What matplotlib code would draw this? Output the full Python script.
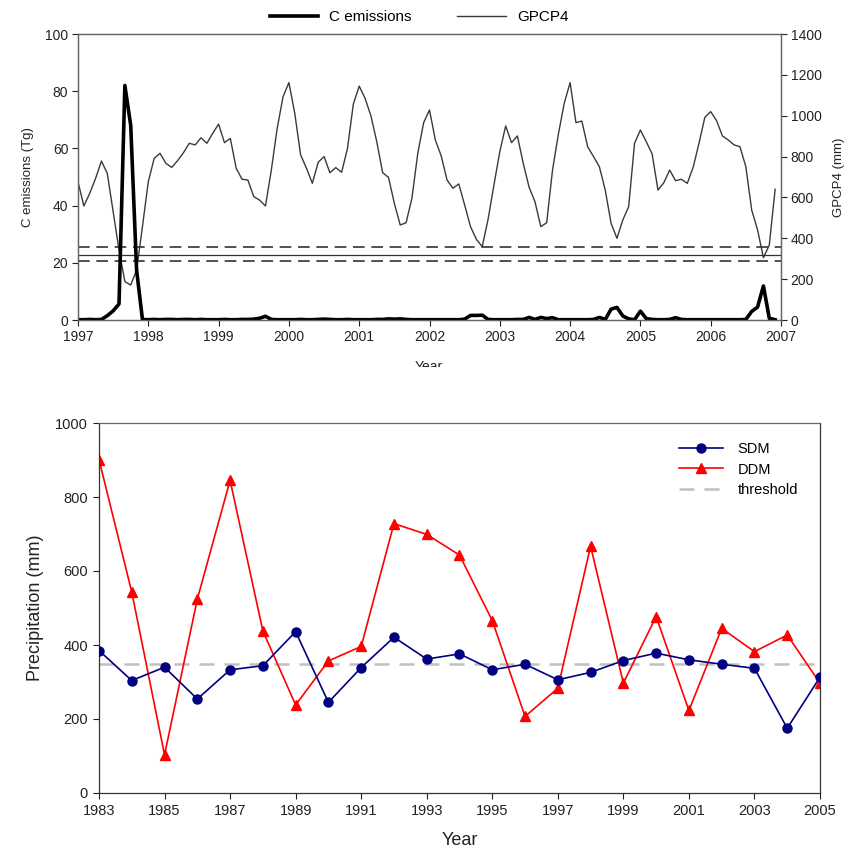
import numpy as np
import matplotlib
matplotlib.use('Agg')
import matplotlib.pyplot as plt
from matplotlib.transforms import Bbox, TransformedBbox

plt.rcParams['font.family'] = ['Liberation Sans', 'DejaVu Sans']

# 上图：月度数据 1997-2006
months = 1997 + np.arange(120) / 12.0
gpcp4 = [677, 558, 620, 693, 778, 718, 530, 343, 188, 171, 245, 457,
         677, 791, 816, 767, 747, 780, 819, 865, 857, 892, 865, 914,
         959, 868, 889, 743, 689, 685, 604, 587, 558, 734, 938, 1093,
         1162, 1012, 808, 743, 669, 772, 800, 721, 746, 723, 840, 1057,
         1145, 1085, 999, 873, 721, 698, 571, 465, 476, 596, 816, 966,
         1028, 881, 803, 685, 645, 666, 563, 457, 395, 359, 493, 661,
         824, 950, 868, 901, 767, 650, 579, 457, 476, 734, 910, 1061,
         1162, 966, 974, 848, 800, 750, 636, 473, 400, 490, 555, 865,
         930, 873, 813, 636, 672, 734, 682, 689, 669, 747, 865, 992,
         1020, 976, 901, 881, 857, 848, 750, 538, 441, 305, 367, 640]
c_emis = [0.1, 0.1, 0.2, 0.1, 0.2, 1.5, 3.2, 5.6, 82, 68, 17.5, 0.2,
          0.1, 0.2, 0.1, 0.2, 0.2, 0.1, 0.2, 0.2, 0.1, 0.2, 0.1, 0.1,
          0.1, 0.2, 0.1, 0.1, 0.2, 0.2, 0.3, 0.6, 1.3, 0.2, 0.1, 0.1,
          0.1, 0.1, 0.2, 0.1, 0.1, 0.2, 0.3, 0.2, 0.1, 0.1, 0.2, 0.1,
          0.1, 0.1, 0.1, 0.2, 0.2, 0.4, 0.3, 0.4, 0.2, 0.1, 0.1, 0.1,
          0.1, 0.1, 0.1, 0.1, 0.1, 0.1, 0.3, 1.6, 1.6, 1.7, 0.2, 0.1,
          0.1, 0.1, 0.1, 0.2, 0.2, 0.9, 0.2, 0.9, 0.5, 0.8, 0.1, 0.1,
          0.1, 0.1, 0.1, 0.1, 0.2, 0.9, 0.2, 3.8, 4.4, 1.4, 0.4, 0.1,
          3.1, 0.5, 0.2, 0.1, 0.1, 0.2, 0.8, 0.2, 0.1, 0.1, 0.1, 0.1,
          0.1, 0.1, 0.1, 0.1, 0.1, 0.1, 0.2, 3.0, 4.5, 11.9, 0.6, 0.1]
thr_hi, thr_mid, thr_lo = 359, 317, 290   # mm

# 下图：年度降水
years = np.arange(1983, 2006)
sdm = [385, 304, 340, 254, 333, 344, 436, 245, 339, 421, 362, 376,
       333, 348, 306, 326, 358, 378, 360, 348, 337, 175, 313]
ddm = [901, 543, 103, 524, 845, 438, 238, 357, 396, 728, 699, 643,
       466, 207, 283, 667, 297, 477, 223, 445, 382, 427, 297]
threshold = 350

fig = plt.figure(figsize=(8.53, 8.52), dpi=100)
W, H = 853.0, 852.0

# ---------- 上图 ----------
ax1 = fig.add_axes([78 / W, 1 - 320 / H, (781 - 78) / W, (320 - 34) / H])
ax2 = ax1.twinx()
ax1.set_zorder(ax2.get_zorder() + 1)
ax1.patch.set_visible(False)

l2, = ax2.plot(months, gpcp4, color='#3a3a3a', lw=1.0, label='GPCP4')
for v, ls in [(thr_hi, (0, (7, 4))), (thr_mid, '-'), (thr_lo, (0, (7, 4)))]:
    ax2.axhline(v, color='#333333', lw=1.2 if ls != '-' else 0.9, linestyle=ls)
l1, = ax1.plot(months, c_emis, color='black', lw=2.6, label='C emissions')

ax1.set_xlim(1997, 2007)
ax1.set_ylim(0, 100)
ax2.set_ylim(0, 1400)
ax1.set_xticks(range(1997, 2008))
ax1.set_yticks(range(0, 101, 20))
ax2.set_yticks(range(0, 1401, 200))
for a in (ax1, ax2):
    a.tick_params(direction='out', length=4, width=0.8, labelsize=10,
                  colors='#222222', pad=3)
    for s in a.spines.values():
        s.set_color('#666666')
        s.set_linewidth(0.9)
ax1.set_ylabel('C emissions (Tg)', fontsize=9.5, color='#222222', labelpad=8)
ax2.set_ylabel('GPCP4 (mm)', fontsize=9.5, color='#222222', labelpad=8)

fig.legend([l1, l2], ['C emissions', 'GPCP4'], loc='center',
           bbox_to_anchor=(419 / W, 1 - 17 / H), ncol=2, frameon=False,
           fontsize=11, handlelength=3.2, columnspacing=3.0, handletextpad=0.7)

# 被裁掉一半的 "Year"
yl = fig.text(429 / W, 1 - 367 / H, 'Year', ha='center', va='center',
              fontsize=10, color='#222222')
yl.set_clip_box(TransformedBbox(Bbox([[0, 1 - 367 / H], [1, 1]]), fig.transFigure))
yl.set_clip_on(True)

# ---------- 下图 ----------
ax3 = fig.add_axes([99 / W, 1 - 793 / H, (820 - 99) / W, (793 - 423) / H])
ax3.axhline(threshold, color='#c0c0c0', lw=1.8, linestyle=(0, (6, 4)),
            label='threshold', zorder=1)
ax3.plot(years, sdm, color='#000080', lw=1.2, marker='o', ms=6.5,
         label='SDM', zorder=3)
ax3.plot(years, ddm, color='#ff0000', lw=1.2, marker='^', ms=7.5,
         label='DDM', zorder=2)
ax3.set_xlim(1983, 2005)
ax3.set_ylim(0, 1000)
ax3.set_xticks(range(1983, 2006, 2))
ax3.set_yticks(range(0, 1001, 200))
ax3.tick_params(direction='out', length=4, width=0.8, labelsize=10.5,
                colors='#222222', pad=4)
for s in ax3.spines.values():
    s.set_color('#333333')
    s.set_linewidth(0.9)
ax3.spines['top'].set_color('#666666')
ax3.set_ylabel('Precipitation (mm)', fontsize=13, color='#222222', labelpad=8)
ax3.set_xlabel('Year', fontsize=13, color='#222222', labelpad=10)

h, lab = ax3.get_legend_handles_labels()
order = [1, 2, 0]
ax3.legend([h[i] for i in order], [lab[i] for i in order], loc='upper left',
           bbox_to_anchor=((679 - 99) / 721.0, (793 - 442) / 370.0),
           frameon=False, fontsize=10.5, handlelength=3.0, borderpad=0,
           borderaxespad=0, labelspacing=0.45, handletextpad=1.0)

fig.savefig('out.png', dpi=100)
